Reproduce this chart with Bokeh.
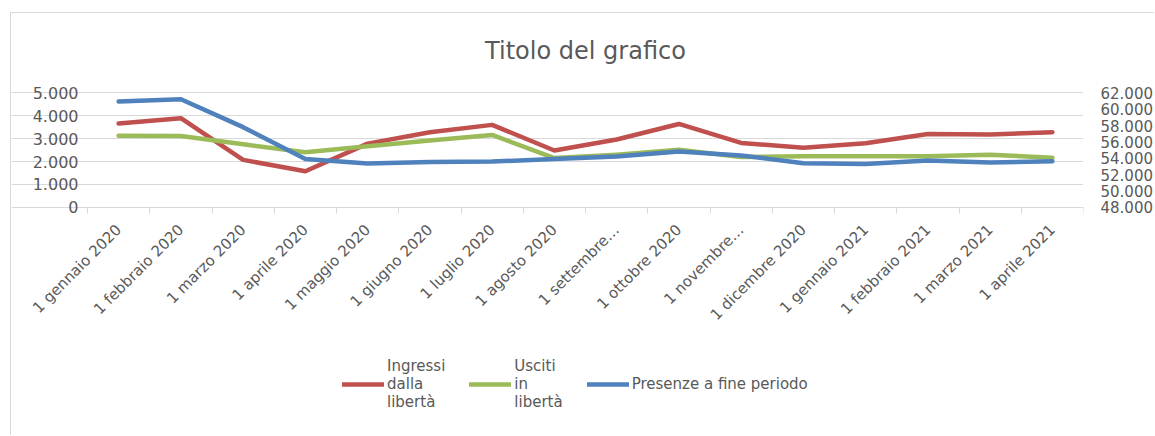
import math
from bokeh.plotting import figure
from bokeh.models import (Range1d, LinearAxis, FixedTicker, Legend, LegendItem,
                          CustomJSTickFormatter, Label)
from bokeh.embed import file_html
from bokeh.resources import INLINE

# ---------------- data ----------------
categories = ["1 gennaio 2020", "1 febbraio 2020", "1 marzo 2020", "1 aprile 2020",
              "1 maggio 2020", "1 giugno 2020", "1 luglio 2020", "1 agosto 2020",
              "1 settembre 2020", "1 ottobre 2020", "1 novembre 2020", "1 dicembre 2020",
              "1 gennaio 2021", "1 febbraio 2021", "1 marzo 2021", "1 aprile 2021"]
category_tick_labels = ["1 gennaio 2020", "1 febbraio 2020", "1 marzo 2020", "1 aprile 2020",
                        "1 maggio 2020", "1 giugno 2020", "1 luglio 2020", "1 agosto 2020",
                        "1 settembre…", "1 ottobre 2020", "1 novembre…", "1 dicembre 2020",
                        "1 gennaio 2021", "1 febbraio 2021", "1 marzo 2021", "1 aprile 2021"]

ingressi = [3660, 3890, 2070, 1575, 2780, 3280, 3600, 2480,
            2960, 3640, 2810, 2600, 2800, 3200, 3180, 3280]
usciti = [3120, 3110, 2750, 2400, 2670, 2920, 3160, 2150,
          2300, 2510, 2200, 2230, 2230, 2230, 2300, 2160]
presenze = [60940, 61220, 57800, 53920, 53350, 53550, 53590, 53900,
            54200, 54820, 54330, 53390, 53300, 53710, 53470, 53630]

series_names = ["Ingressi\ndalla\nlibertà", "Usciti\nin\nlibertà", "Presenze a fine periodo"]
series_colors = ["#C0504D", "#9BBB59", "#4F81BD"]

left_ticks = [0, 1000, 2000, 3000, 4000, 5000]
left_tick_labels = ["0", "1.000", "2.000", "3.000", "4.000", "5.000"]
right_ticks = [48000, 50000, 52000, 54000, 56000, 58000, 60000, 62000]
right_tick_labels = ["48.000", "50.000", "52.000", "54.000", "56.000", "58.000", "60.000", "62.000"]

title_text = "Titolo del grafico"

# ---------------- layout / styling ----------------
FONT = "DejaVu Sans"
TXT = "#595959"
GRID = "#d9d9d9"

W, H = 1144, 423
RIGHT_PX = 72            # right panel for the secondary axis
LEFT_PX = 76.0           # room left of the plotting band (value labels)
BAND_W = W - RIGHT_PX - LEFT_PX   # width of the category band
BAND_TOP = 79.3          # pixel row of the top gridline
BAND_H = 114.5           # pixel height of the value band
TITLE_RISE = 41.5        # title baseline above the top gridline (px)

n = len(categories)
xs = [i + 0.5 for i in range(n)]

x_range = Range1d(-LEFT_PX / BAND_W * n, n)
l_lo, l_hi = left_ticks[0], left_ticks[-1]
r_lo, r_hi = right_ticks[0], right_ticks[-1]
lu = (l_hi - l_lo) / BAND_H
ru = (r_hi - r_lo) / BAND_H
below_px = H - BAND_TOP - BAND_H
y_range = Range1d(l_lo - below_px * lu, l_hi + BAND_TOP * lu)
r_range = Range1d(r_lo - below_px * ru, r_hi + BAND_TOP * ru)

p = figure(width=W, height=H, x_range=x_range, y_range=y_range,
           output_backend="svg", toolbar_location=None,
           min_border_left=0, min_border_right=RIGHT_PX, min_border_top=0, min_border_bottom=0)
p.styles = {"border-left": "1px solid #d9d9d9", "border-top": "1px solid #d9d9d9",
            "margin-left": "10px", "margin-top": "12px"}
p.outline_line_color = None
p.background_fill_color = "white"
p.border_fill_color = "white"

p.extra_y_ranges = {"presenze": r_range}

# x axis, drawn at value 0
xa = p.xaxis[0]
xa.fixed_location = l_lo
xa.bounds = (0, n)
xa.ticker = FixedTicker(ticks=xs, minor_ticks=list(range(n + 1)))
xa.formatter = CustomJSTickFormatter(args=dict(labels=category_tick_labels),
                                     code="return labels[Math.floor(tick)];")
xa.major_label_orientation = math.pi / 4
xa.major_tick_line_color = None
xa.major_tick_out = 0
xa.major_tick_in = 0
xa.minor_tick_line_color = GRID
xa.minor_tick_out = 6
xa.minor_tick_in = 0
xa.axis_line_color = GRID
xa.major_label_standoff = 14
xa.major_label_text_font = FONT
xa.major_label_text_font_size = "15px"
xa.major_label_text_color = TXT

# left axis, drawn at the first category boundary
ya = p.yaxis[0]
ya.fixed_location = 0
ya.ticker = FixedTicker(ticks=left_ticks)
ya.major_label_overrides = dict(zip(left_ticks, left_tick_labels))
ya.axis_line_color = None
ya.major_tick_line_color = None
ya.minor_tick_line_color = None
ya.major_tick_out = 0
ya.major_tick_in = 0
ya.major_label_standoff = 9
ya.major_label_text_font = FONT
ya.major_label_text_font_size = "16px"
ya.major_label_text_color = TXT

# right axis
ra = LinearAxis(y_range_name="presenze", ticker=FixedTicker(ticks=right_ticks))
ra.major_label_overrides = dict(zip(right_ticks, right_tick_labels))
ra.axis_line_color = None
ra.major_tick_line_color = None
ra.minor_tick_line_color = None
ra.major_tick_out = 0
ra.major_tick_in = 0
ra.major_label_standoff = 17
ra.major_label_text_font = FONT
ra.major_label_text_font_size = "15px"
ra.major_label_text_color = TXT
p.add_layout(ra, "right")

p.xgrid.grid_line_color = None
p.ygrid.ticker = FixedTicker(ticks=left_ticks)
p.ygrid.bounds = (0, n)
p.ygrid.grid_line_color = GRID
p.ygrid.grid_line_width = 1

r1 = p.line(xs, ingressi, line_color=series_colors[0], line_width=4.5,
            line_cap="round", line_join="round")
r2 = p.line(xs, usciti, line_color=series_colors[1], line_width=4.5,
            line_cap="round", line_join="round")
r3 = p.line(xs, presenze, line_color=series_colors[2], line_width=4.5,
            line_cap="round", line_join="round", y_range_name="presenze")

title = Label(x=n / 2, y=l_hi + TITLE_RISE * lu, text=title_text,
              text_align="center", text_baseline="alphabetic",
              text_font=FONT, text_font_size="24px", text_color=TXT)
p.add_layout(title)

legend = Legend(items=[LegendItem(label=series_names[0], renderers=[r1]),
                       LegendItem(label=series_names[1], renderers=[r2]),
                       LegendItem(label=series_names[2], renderers=[r3])],
                orientation="horizontal", location=(int(LEFT_PX) + 255, 25),
                padding=0, margin=0, spacing=24,
                glyph_width=42, glyph_height=20, label_standoff=3,
                label_text_font=FONT, label_text_font_size="15px",
                label_text_line_height=1.55,
                label_text_color=TXT,
                border_line_color=None, background_fill_alpha=0)
p.add_layout(legend, "center")

open("out.html", "w").write(file_html(p, INLINE))
